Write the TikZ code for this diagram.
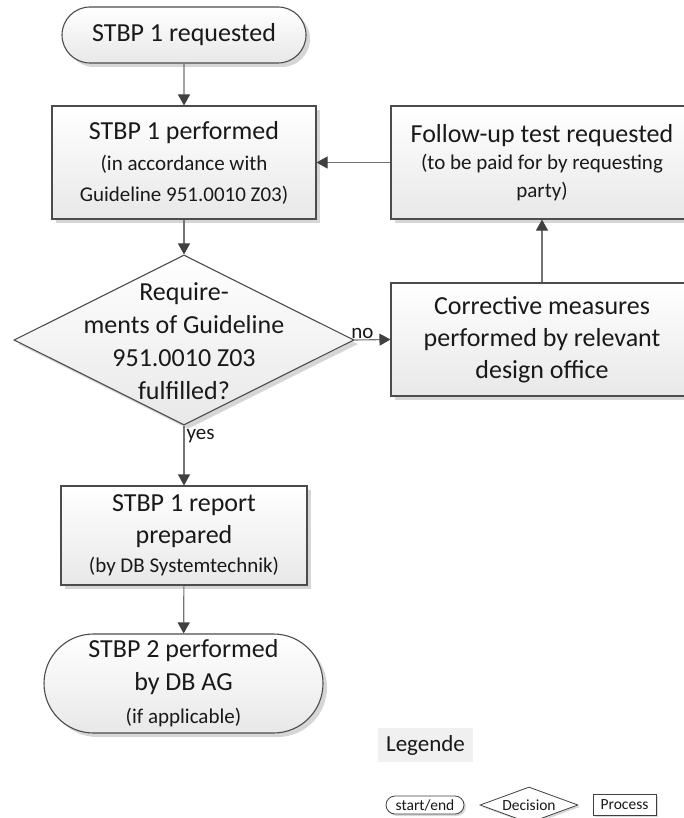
\documentclass[tikz,border=0pt]{standalone}
\usepackage{fontspec}
\setmainfont{Carlito}
\usetikzlibrary{shapes.geometric,shapes.misc,arrows.meta,shadows}
\newcommand{\smtxt}{\fontsize{21}{25}\selectfont}
\begin{document}
\begin{tikzpicture}[x=1pt,y=-1pt,
  every node/.style={text=black!90},
  shadowed/.style={drop shadow={shadow xshift=4pt, shadow yshift=-4pt, opacity=0.16, fill=black}},
  boxsty/.style={draw=black!70, line width=1.1pt, top color=white, bottom color=black!9, shadowed, align=center, inner sep=0pt},
  termsty/.style={boxsty, rounded rectangle},
  conn/.style={draw=black!55, line width=1.1pt, -{Triangle[length=11pt,width=12pt,color=black!75]}},
  lbl/.style={font=\fontsize{21}{25}\selectfont, inner sep=2pt},
  legsty/.style={draw=black!75, line width=0.8pt, fill=white, inner sep=1pt, font=\fontsize{15.5}{18}\selectfont, drop shadow={shadow xshift=2pt, shadow yshift=-2pt, opacity=0.15, fill=black}},
]
\clip (0,0) rectangle (684,818);
\fill[white] (0,0) rectangle (684,818);

% main flow
\node[termsty, minimum width=244pt, minimum height=56pt, font=\fontsize{26}{32}\selectfont] (start) at (184,35) {STBP 1 requested};

\node[boxsty, minimum width=264pt, minimum height=113pt, font=\fontsize{26}{31}\selectfont] (box1) at (184,162.5)
  {STBP 1 performed\\{\smtxt (in accordance with}\\{\smtxt Guideline 951.0010 Z03)}};

\node[diamond, boxsty, minimum width=340pt, minimum height=170pt] (dia) at (184,340) {};
\node[align=center, font=\fontsize{26}{33}\selectfont, inner sep=0pt] (diatext) at (184,341.5)
  {Require-\\ments of Guideline\\951.0010 Z03\\fulfilled?};

\node[boxsty, minimum width=246pt, minimum height=99pt, font=\fontsize{26}{32}\selectfont] (report) at (184,535.5)
  {STBP 1 report\\prepared\\[-3pt]{\smtxt (by DB Systemtechnik)}};

\node[termsty, minimum width=279pt, minimum height=99pt, font=\fontsize{26}{33}\selectfont] (term) at (183.5,683.5)
  {STBP 2 performed\\by DB AG\\{\smtxt (if applicable)}};

% right column
\node[boxsty, minimum width=302pt, minimum height=113pt, font=\fontsize{26}{27.5}\selectfont] (follow) at (542,162.5)
  {Follow-up test requested\\{\smtxt (to be paid for by requesting}\\{\smtxt party)}};

\node[boxsty, minimum width=302pt, minimum height=113pt, font=\fontsize{26}{32}\selectfont] (corr) at (542,339.5)
  {Corrective measures\\performed by relevant\\design office};

% connectors
\draw[conn] (start) -- (box1);
\draw[conn] (box1) -- (dia);
\draw[conn] (dia.south) -- node[lbl, pos=0.17, right]{yes} (report);
\draw[conn] (dia.east) -- node[lbl, pos=0.22, above, inner sep=1pt]{no} (corr.west);
\draw[conn] (corr) -- (follow);
\draw[conn] (follow) -- (box1);
\draw[conn] (report) -- (term);

% legend
\node[fill=black!6, minimum width=95pt, minimum height=34pt, inner sep=0pt, font=\fontsize{23}{27}\selectfont] (legtitle) at (425.5,745) {Legende};
\node[legsty, rounded rectangle, minimum width=80pt, minimum height=18pt] (legterm) at (425,805) {start/end};
\node[legsty, diamond, aspect=2.7, minimum width=98pt, minimum height=36pt] (legdec) at (529,805) {Decision};
\node[legsty, rectangle, minimum width=63pt, minimum height=21pt] (legproc) at (624.5,804.5) {Process};
\end{tikzpicture}
\end{document}
